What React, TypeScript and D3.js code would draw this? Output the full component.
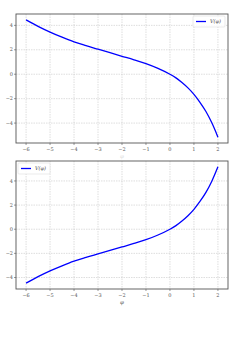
import React from "react";
import * as d3 from "d3";

// readings of the curve from the picture
const phi = [-6, -5.5, -5, -4.5, -4, -3.5, -3, -2.5, -2, -1.5, -1, -0.5, 0, 0.25, 0.5, 0.75, 1, 1.25, 1.5, 1.75, 2];
const vTop = [4.45, 3.92, 3.45, 3.03, 2.65, 2.34, 2.05, 1.76, 1.47, 1.18, 0.87, 0.48, 0, -0.3, -0.68, -1.12, -1.65, -2.3, -3.05, -4.0, -5.15];
const vBottom = [-4.47, -3.93, -3.45, -3.03, -2.65, -2.34, -2.05, -1.76, -1.47, -1.18, -0.87, -0.48, 0, 0.3, 0.68, 1.12, 1.65, 2.3, 3.05, 4.0, 5.17];
const xTicks = [-6, -5, -4, -3, -2, -1, 0, 1, 2];
const yTicks = [-4, -2, 0, 2, 4];
const legendLabel = "V(φ)";
const xLabel = "φ";

const W = 245;
const H = 349;
const font = "'DejaVu Serif', serif";

function fmt(v: number) {
  return v < 0 ? "\u2212" + Math.abs(v) : String(v);
}

function Panel({ top, bottom, ys, legendRight, labelColor }: any) {
  const left = 16;
  const right = 228;
  const x = d3.scaleLinear().domain([-6.42, 2.42]).range([left, right]);
  const ext = d3.extent(ys) as [number, number];
  const pad = (ext[1] - ext[0]) * 0.05;
  const y = d3.scaleLinear().domain([ext[0] - pad, ext[1] + pad]).range([bottom, top]);
  const path = d3
    .line<number>()
    .x((_, i) => x(phi[i]))
    .y((d) => y(d))
    .curve(d3.curveCatmullRom)(ys);

  const lgW = 32;
  const lgH = 11;
  const lgX = legendRight ? right - 3 - lgW : left + 2;
  const lgY = top + 2;

  return (
    <g>
      {xTicks.map((t) => (
        <line key={"gx" + t} x1={x(t)} x2={x(t)} y1={top} y2={bottom} stroke="#c8c8c8" strokeWidth={0.6} strokeDasharray="1.5,1" />
      ))}
      {yTicks.map((t) => (
        <line key={"gy" + t} x1={left} x2={right} y1={y(t)} y2={y(t)} stroke="#c8c8c8" strokeWidth={0.6} strokeDasharray="1.5,1" />
      ))}
      <path d={path || ""} fill="none" stroke="#0000ff" strokeWidth={1.3} />
      <rect x={left} y={top} width={right - left} height={bottom - top} fill="none" stroke="#555" strokeWidth={0.9} />
      {xTicks.map((t) => (
        <g key={"tx" + t}>
          <line x1={x(t)} x2={x(t)} y1={bottom} y2={bottom + 2} stroke="#555" strokeWidth={0.6} />
          <text x={x(t)} y={bottom + 7.5} fontSize={5} fontFamily={font} fill="#555" textAnchor="middle">
            {fmt(t)}
          </text>
        </g>
      ))}
      {yTicks.map((t) => (
        <g key={"ty" + t}>
          <line x1={left - 2} x2={left} y1={y(t)} y2={y(t)} stroke="#555" strokeWidth={0.6} />
          <text x={left - 3} y={y(t) + 1.7} fontSize={5} fontFamily={font} fill="#555" textAnchor="end">
            {fmt(t)}
          </text>
        </g>
      ))}
      <text x={(left + right) / 2} y={bottom + 15} fontSize={5.5} fontFamily={font} fontStyle="italic" fill={labelColor} textAnchor="middle">
        {xLabel}
      </text>
      <rect x={lgX} y={lgY} width={lgW} height={lgH} fill="#fff" fillOpacity={0.85} stroke="#ddd" strokeWidth={0.6} rx={1} />
      <line x1={lgX + 3} x2={lgX + 13} y1={lgY + lgH / 2} y2={lgY + lgH / 2} stroke="#0000ff" strokeWidth={1.3} />
      <text x={lgX + 17} y={lgY + lgH / 2 + 1.8} fontSize={5} fontFamily={font} fontStyle="italic" fill="#444">
        {legendLabel}
      </text>
    </g>
  );
}

export default function App() {
  return (
    <svg width={W} height={H} style={{ position: "absolute", left: 0, top: 0, background: "#fff" }}>
      <rect width={W} height={H} fill="#fff" />
      <Panel top={14} bottom={143} ys={vTop} legendRight={true} labelColor="#ddd" />
      <Panel top={161} bottom={289} ys={vBottom} legendRight={false} labelColor="#555" />
    </svg>
  );
}
